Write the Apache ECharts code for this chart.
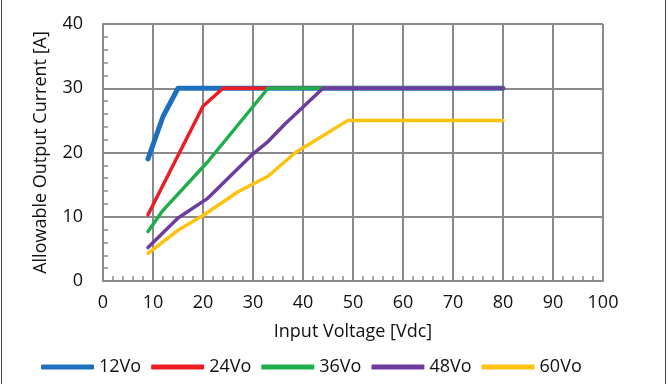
<!DOCTYPE html>
<html>
<head>
<meta charset="utf-8">
<script src="https://cdn.jsdelivr.net/npm/echarts@6/dist/echarts.min.js"></script>
<style>
html,body{margin:0;padding:0;background:#fff;}
#wrap{position:relative;width:668px;height:384px;}
#chart{width:668px;height:384px;}
#bl{position:absolute;left:1px;top:0;width:1px;height:384px;background:#444;}
#br{position:absolute;left:665px;top:0;width:1px;height:384px;background:#444;}
</style>
</head>
<body>
<div id="wrap"><div id="chart"></div><div id="bl"></div><div id="br"></div></div>
<script>
const seriesNames = ['12Vo', '24Vo', '36Vo', '48Vo', '60Vo'];
const colors = ['#1f6fbf', '#ee1c24', '#1fae4b', '#6e3b9e', '#ffc20e'];
const v12 = [[9, 19], [12, 25.6], [15, 30], [80, 30]];
const v24 = [[9, 10.3], [20, 27.2], [24, 30], [80, 30]];
const v36 = [[9, 7.7], [12, 11], [21, 18.6], [33, 30], [80, 30]];
const v48 = [[9, 5.2], [15, 9.8], [21, 12.9], [30, 19.8], [33, 21.7], [36.5, 24.5], [44, 30], [80, 30]];
const v60 = [[9, 4.3], [15, 7.9], [20, 10.2], [27, 13.9], [33, 16.3], [38.5, 20], [49, 25], [80, 25]];
const xTitle = 'Input Voltage [Vdc]';
const yTitle = 'Allowable Output Current [A]';
const allData = [v12, v24, v36, v48, v60];
const widths = [5, 3.5, 3.5, 3.5, 3.5];

const font = 'Open Sans';
const chart = echarts.init(document.getElementById('chart'), null, {renderer: 'canvas'});
const axisGray = '#8a8a8a';
chart.setOption({
  animation: false,
  textStyle: {fontFamily: font},
  grid: {left: 103, right: 65, top: 24, bottom: 103},
  legend: {
    top: 353,
    left: 36,
    itemWidth: 53,
    itemHeight: 5,
    itemGap: 10,
    icon: 'roundRect',
    textStyle: {fontSize: 18, color: '#111', fontFamily: font},
    data: seriesNames.map((n, i) => ({name: n, itemStyle: {color: colors[i]}}))
  },
  xAxis: {
    type: 'value', min: 0, max: 100, interval: 10,
    name: xTitle, nameLocation: 'middle', nameGap: 42,
    nameTextStyle: {fontSize: 18, color: '#111'},
    axisLine: {show: true, lineStyle: {color: axisGray, width: 2}},
    axisTick: {show: true, inside: true, length: 6, lineStyle: {color: axisGray, width: 1.5}},
    minorTick: {show: true, splitNumber: 5, length: 5, lineStyle: {color: axisGray, width: 1.5}},
    axisLabel: {fontSize: 18, color: '#111', margin: 13},
    splitLine: {show: true, lineStyle: {color: axisGray, width: 2}}
  },
  yAxis: {
    type: 'value', min: 0, max: 40, interval: 10,
    name: yTitle, nameLocation: 'middle', nameGap: 53, nameRotate: 90,
    nameTextStyle: {fontSize: 18, color: '#111'},
    axisLine: {show: true, lineStyle: {color: axisGray, width: 2}},
    axisTick: {show: true, inside: true, length: 6, lineStyle: {color: axisGray, width: 1.5}},
    minorTick: {show: true, splitNumber: 5, length: 5, lineStyle: {color: axisGray, width: 1.5}},
    axisLabel: {fontSize: 18, color: '#111', margin: 20},
    splitLine: {show: true, lineStyle: {color: axisGray, width: 2}}
  },
  series: allData.map((d, i) => ({
    name: seriesNames[i],
    type: 'line',
    data: d,
    symbol: 'none',
    color: colors[i],
    lineStyle: {width: widths[i], color: colors[i], cap: 'round', join: 'round'}
  }))
});
</script>
</body>
</html>
